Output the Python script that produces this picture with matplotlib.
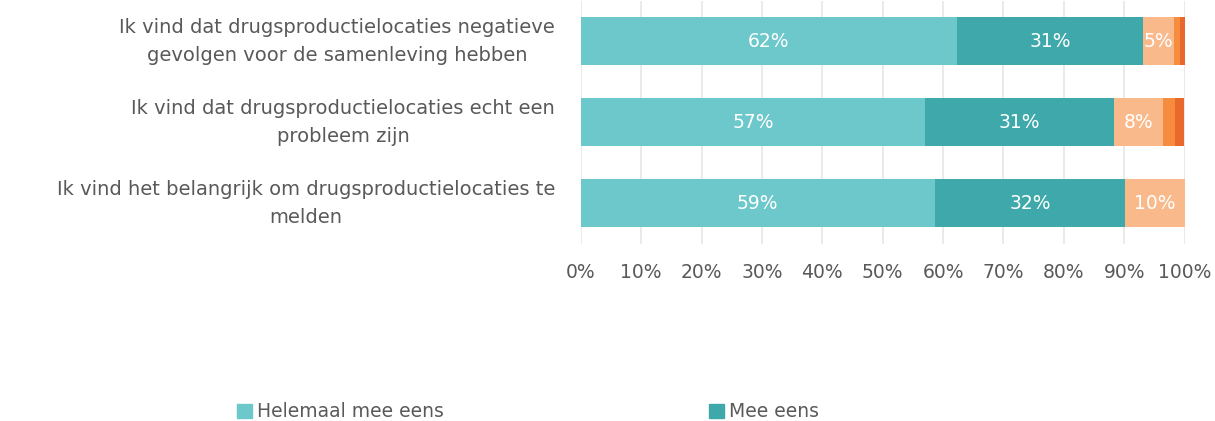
import numpy as np
import matplotlib.pyplot as plt
import matplotlib.transforms as mtransforms
from matplotlib.patches import Patch

statements = [
    'Ik vind dat drugsproductielocaties negatieve\ngevolgen voor de samenleving hebben',
    'Ik vind dat drugsproductielocaties echt een\nprobleem zijn',
    'Ik vind het belangrijk om drugsproductielocaties te\nmelden',
]
series_names = ['Helemaal mee eens', 'Mee eens', 'Neutraal', 'Oneens', 'Helemaal oneens']
helemaal_eens = [62.3, 57.0, 58.6]
eens = [30.8, 31.3, 31.6]
neutraal = [5.2, 8.1, 9.8]
oneens = [0.9, 2.0, 0.3]
helemaal_oneens = [0.8, 1.5, 0.0]
colors = ['#6cc8ca', '#3ea8aa', '#f9b98b', '#f68c3d', '#e8692b']
grey = '#595959'

fg = plt.figure(figsize=(12.15, 4.21), dpi=100)
ax = fg.add_axes([0.478, 0.4216, 0.497, 0.577])

y = np.arange(len(statements))
left = np.zeros(len(statements))
for name, vals, c in zip(series_names,
                         [helemaal_eens, eens, neutraal, oneens, helemaal_oneens],
                         colors):
    vals = np.array(vals)
    ax.barh(y, vals, left=left, height=0.6, color=c, label=name, zorder=3)
    for yi, l, v in zip(y, left, vals):
        if v >= 4:
            ax.text(l + v / 2, yi, f'{v:.0f}%', ha='center', va='center',
                    color='white', fontsize=13.5, zorder=4)
    left += vals

ax.set_xlim(0, 100)
ax.set_ylim(2.5, -0.5)
ax.set_xticks(np.arange(0, 101, 10))
ax.set_xticklabels([f'{t}%' for t in range(0, 101, 10)])
ax.set_yticks([])
ax.tick_params(axis='x', length=0, pad=14, labelsize=13.5, colors=grey)
ax.grid(axis='x', color='#e6e6e6', lw=1.2, zorder=0)
for s in ax.spines.values():
    s.set_visible(False)

# category labels: right-aligned block, lines centred
tr = mtransforms.blended_transform_factory(fg.transFigure, ax.transData)
for yi, s in zip(y, statements):
    fg.text(555 / 1215, yi, s, transform=tr, ha='right', va='center',
            multialignment='center', linespacing=1.6, fontsize=14, color=grey)

handles = [Patch(color=colors[0]), Patch(color=colors[1])]
fg.legend(handles, series_names[:2], loc='center left', bbox_to_anchor=(0.181, 0.022),
          ncol=2, frameon=False, fontsize=13.5, handlelength=0.8, handleheight=0.8,
          handletextpad=0.3, columnspacing=14.1, labelcolor=grey)

fg.savefig('out.png', dpi=100)
